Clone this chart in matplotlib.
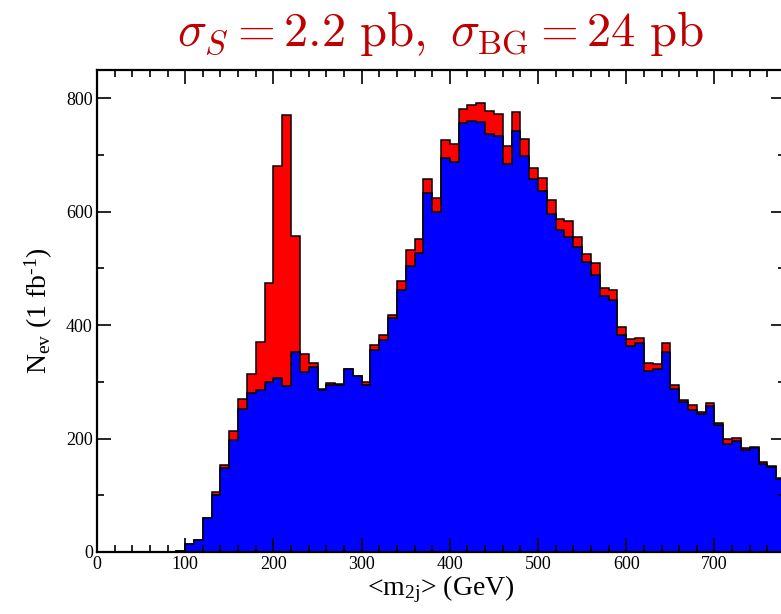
import numpy as np
import matplotlib
matplotlib.use("Agg")
import matplotlib.pyplot as plt
from matplotlib.ticker import MultipleLocator

plt.rcParams["font.family"] = ["Liberation Serif", "DejaVu Serif"]
plt.rcParams["mathtext.fontset"] = "custom"
plt.rcParams["mathtext.rm"] = "Liberation Serif"
plt.rcParams["mathtext.it"] = "Liberation Serif:italic"

# bin edges of <m_2j> in GeV (10 GeV bins)
bin_width = 10
bin_low = list(range(0, 780, bin_width))

# background events per bin (blue), bins starting at 0 GeV
background = [0, 0, 0, 0, 0, 0, 0, 0, 0, 1,
              14, 22, 60, 101, 148, 197, 253, 281, 285, 299,
              307, 292, 352, 317, 327, 285, 295, 295, 323, 310,
              295, 356, 374, 412, 462, 505, 527, 633, 599, 695,
              687, 756, 760, 758, 737, 733, 685, 742, 698, 657,
              637, 596, 568, 555, 537, 512, 488, 451, 444, 383,
              363, 368, 319, 323, 352, 288, 264, 251, 243, 257,
              224, 191, 196, 179, 183, 156, 150, 128]

# signal events per bin (red, stacked on top of background)
signal = [0, 0, 0, 0, 0, 0, 0, 0, 0, 0,
          0, 0, 0, 5, 6, 16, 16, 33, 86, 175,
          373, 479, 206, 32, 7, 3, 3, 2, 0, 0,
          4, 9, 9, 6, 16, 27, 25, 24, 26, 31,
          33, 25, 29, 34, 41, 39, 31, 34, 30, 21,
          22, 25, 19, 28, 18, 14, 21, 15, 18, 13,
          12, 10, 15, 9, 17, 6, 4, 8, 4, 5,
          4, 9, 5, 5, 2, 2, 1, 3]

edges = np.array(bin_low + [bin_low[-1] + bin_width])
bg = np.array(background)
total = bg + np.array(signal)

fig = plt.figure(figsize=(7.81, 6.14), dpi=100)
ax = fig.add_axes([97 / 781, 62 / 614, 688 / 781, 482 / 614])

# signal + background, then background on top
ax.stairs(total, edges, fill=True, facecolor="#ff0000", edgecolor="none")
ax.stairs(total, edges, color="black", linewidth=1.1)
ax.stairs(bg, edges, fill=True, facecolor="#0000ff", edgecolor="none")
ax.stairs(bg, edges, color="black", linewidth=1.1)

ax.set_xlim(0, 780)
ax.set_ylim(0, 850)
ax.xaxis.set_major_locator(MultipleLocator(100))
ax.xaxis.set_minor_locator(MultipleLocator(20))
ax.yaxis.set_major_locator(MultipleLocator(200))
ax.yaxis.set_minor_locator(MultipleLocator(100))
ax.tick_params(which="both", direction="in", top=True, right=True,
               labelsize=13, width=1.2)
ax.tick_params(which="major", length=10, pad=3)
ax.tick_params(which="minor", length=5)
for s in ax.spines.values():
    s.set_linewidth(1.6)

ax.set_xlabel(r"<m$_{\mathrm{2j}}$> (GeV)", fontsize=20, labelpad=0)
ax.set_ylabel(r"N$_{\mathrm{ev}}$ (1 fb$^{\mathrm{\text{-}1}}$)", fontsize=20, labelpad=8)
fig.text(440 / 781, 1 - 34 / 614,
         r"$\sigma_S = 2.2\ \mathrm{pb},\ \sigma_{\mathrm{BG}} = 24\ \mathrm{pb}$",
         math_fontfamily="cm", fontsize=35, color="#c00000",
         ha="center", va="center")

fig.savefig("out.png", dpi=100)
